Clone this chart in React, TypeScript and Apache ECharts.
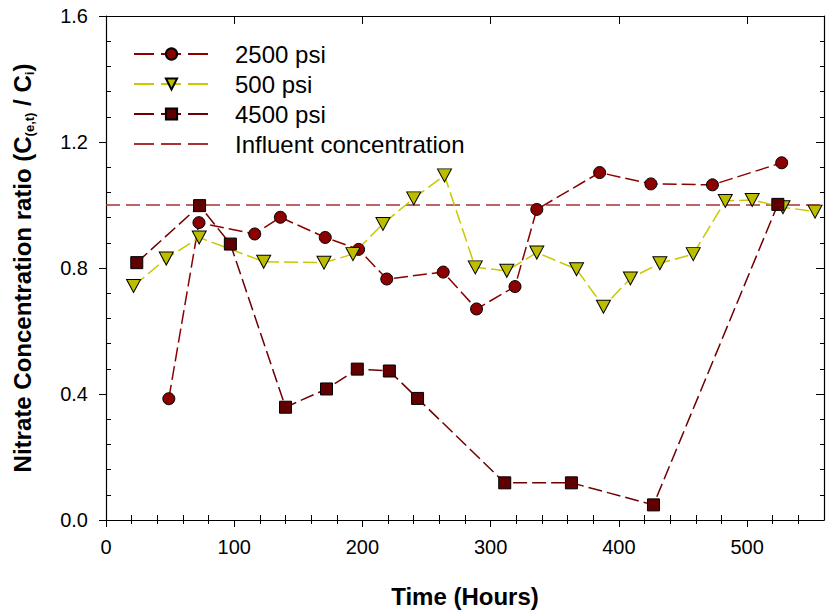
import React, { useEffect, useRef } from "react";
import * as echarts from "echarts";

// ---- Data ----
const hours2500 = [49, 72.5, 116, 136, 171, 197, 219, 263, 289, 319, 336, 385, 425, 473, 527];
const ratio2500 = [0.385, 0.944, 0.908, 0.961, 0.897, 0.859, 0.765, 0.787, 0.67, 0.741, 0.986, 1.103, 1.067, 1.064, 1.134];

const hours500 = [21.5, 47, 72.7, 123, 170, 192.6, 216, 240, 264, 288, 312.6, 336, 367, 388, 409, 432, 458, 483, 504, 528, 553];
const ratio500 = [0.743, 0.83, 0.897, 0.82, 0.817, 0.844, 0.94, 1.021, 1.094, 0.802, 0.791, 0.849, 0.796, 0.677, 0.767, 0.815, 0.844, 1.013, 1.016, 0.993, 0.979];

const hours4500 = [24, 73, 97, 140, 172, 196, 221, 243, 311, 363, 427, 524];
const ratio4500 = [0.817, 0.998, 0.876, 0.358, 0.416, 0.479, 0.473, 0.386, 0.118, 0.118, 0.048, 1.002];

const influentHours = [0, 560];
const influentRatio = [1.0, 1.0];

const seriesNames = ["2500 psi", "500 psi", "4500 psi", "Influent concentration"];

// ---- Axis ticks ----
const xMajorTicks = [0, 100, 200, 300, 400, 500];
const xMinorTicks = [20, 40, 60, 80, 120, 140, 160, 180, 220, 240, 260, 280, 320, 340, 360, 380, 420, 440, 460, 480, 520, 540];
const xRange = [0, 560];
const yRange = [0, 1.6];
const yInterval = 0.4;

const FONT = "'Liberation Sans', Arial, Helvetica, sans-serif";

const zip = (xs: number[], ys: number[]) => xs.map((x, i) => [x, ys[i]]);

export default function App() {
  const ref = useRef<HTMLDivElement>(null);

  useEffect(() => {
    if (!ref.current) return;
    const chart = echarts.init(ref.current, null, { renderer: "svg" });
    const black = "#000";
    const line = { show: true, onZero: false, lineStyle: { color: black, width: 1.2 } };
    const none = { show: false };
    const baseX = {
      type: "value",
      min: xRange[0],
      max: xRange[1],
      splitLine: none,
      axisLabel: { show: false },
      axisLine: { show: false },
      axisTick: { show: false },
      minorTick: { show: false },
    };
    const baseY = {
      type: "value",
      min: yRange[0],
      max: yRange[1],
      interval: yInterval,
      splitLine: none,
      axisLabel: { show: false },
      axisLine: { show: false },
      axisTick: { show: false },
      minorTick: { show: false },
    };

    const option: any = {
      animation: false,
      backgroundColor: "#fff",
      grid: { left: 106, right: 6, top: 16, bottom: 96, containLabel: false },
      legend: {
        orient: "vertical",
        left: 133,
        top: 42,
        padding: 0,
        itemWidth: 75,
        itemHeight: 14,
        itemGap: 6,
        data: seriesNames,
        lineStyle: { type: [20, 7] },
        textStyle: { fontSize: 24, fontFamily: FONT, color: black, padding: [0, 0, 0, 21] },
      },
      xAxis: [
        {
          ...baseX,
          position: "bottom",
          axisLine: line,
          axisTick: { show: true, inside: false, length: 7, customValues: xMajorTicks, lineStyle: { color: black } },
          axisLabel: {
            show: true,
            customValues: xMajorTicks,
            fontSize: 20,
            fontFamily: FONT,
            color: black,
            margin: 17,
          },
          name: "Time (Hours)",
          nameLocation: "middle",
          nameGap: 64,
          nameTextStyle: { fontSize: 24, fontWeight: "bold", fontFamily: FONT, color: black },
        },
        {
          ...baseX,
          position: "bottom",
          axisTick: { show: true, inside: true, length: 5, customValues: xMinorTicks, lineStyle: { color: black } },
        },
        {
          ...baseX,
          position: "top",
          axisLine: line,
          axisTick: { show: true, inside: true, length: 8, customValues: xMajorTicks, lineStyle: { color: black } },
        },
        {
          ...baseX,
          position: "top",
          axisTick: { show: true, inside: true, length: 4, customValues: xMinorTicks, lineStyle: { color: black } },
        },
      ],
      yAxis: [
        {
          ...baseY,
          position: "left",
          axisLine: line,
          axisTick: { show: true, inside: false, length: 7, lineStyle: { color: black } },
          axisLabel: {
            show: true,
            fontSize: 20,
            fontFamily: FONT,
            color: black,
            margin: 18,
            formatter: (v: number) => v.toFixed(1),
          },
          name: "Nitrate Concentration ratio (C{sub|(e,t)} / C{sub|i})",
          nameLocation: "middle",
          nameRotate: 90,
          nameGap: 70,
          nameTextStyle: {
            fontSize: 24,
            fontWeight: "bold",
            fontFamily: FONT,
            color: black,
            rich: {
              sub: { fontSize: 13, fontWeight: "bold", fontFamily: FONT, color: black, padding: [14, 0, 0, 0] },
            },
          },
        },
        {
          ...baseY,
          position: "left",
          axisTick: { show: false, inside: true },
          minorTick: { show: true, splitNumber: 5, length: 5, lineStyle: { color: black } },
        },
        {
          ...baseY,
          position: "right",
          axisLine: line,
          axisTick: { show: true, inside: true, length: 8, lineStyle: { color: black } },
          minorTick: { show: true, splitNumber: 5, length: 4, lineStyle: { color: black } },
        },
      ],
      series: [
        {
          name: seriesNames[0],
          type: "line",
          data: zip(hours2500, ratio2500),
          symbol: "circle",
          symbolSize: 12,
          itemStyle: { color: "#8B0000", borderColor: black, borderWidth: 1 },
          lineStyle: { color: "#8B0000", width: 1.5, type: [14, 5] },
          z: 3,
        },
        {
          name: seriesNames[1],
          type: "line",
          data: zip(hours500, ratio500),
          symbol: "triangle",
          symbolRotate: 180,
          symbolSize: [14, 13],
          itemStyle: { color: "#BDBD00", borderColor: black, borderWidth: 1 },
          lineStyle: { color: "#C8C800", width: 1.5, type: [14, 5] },
          z: 3,
        },
        {
          name: seriesNames[2],
          type: "line",
          data: zip(hours4500, ratio4500),
          symbol: "rect",
          symbolSize: 12,
          itemStyle: { color: "#600000", borderColor: black, borderWidth: 1 },
          lineStyle: { color: "#6E0000", width: 1.5, type: [14, 5] },
          z: 4,
        },
        {
          name: seriesNames[3],
          type: "line",
          data: zip(influentHours, influentRatio),
          symbol: "none",
          itemStyle: { color: "rgba(0,0,0,0)", borderWidth: 0 },
          lineStyle: { color: "#A83232", width: 1.5, type: [14, 6] },
          z: 2,
        },
      ],
    };

    chart.setOption(option);
    return () => chart.dispose();
  }, []);

  return (
    <div
      ref={ref}
      style={{ position: "absolute", left: 0, top: 0, width: 830, height: 616, background: "#fff" }}
    />
  );
}
